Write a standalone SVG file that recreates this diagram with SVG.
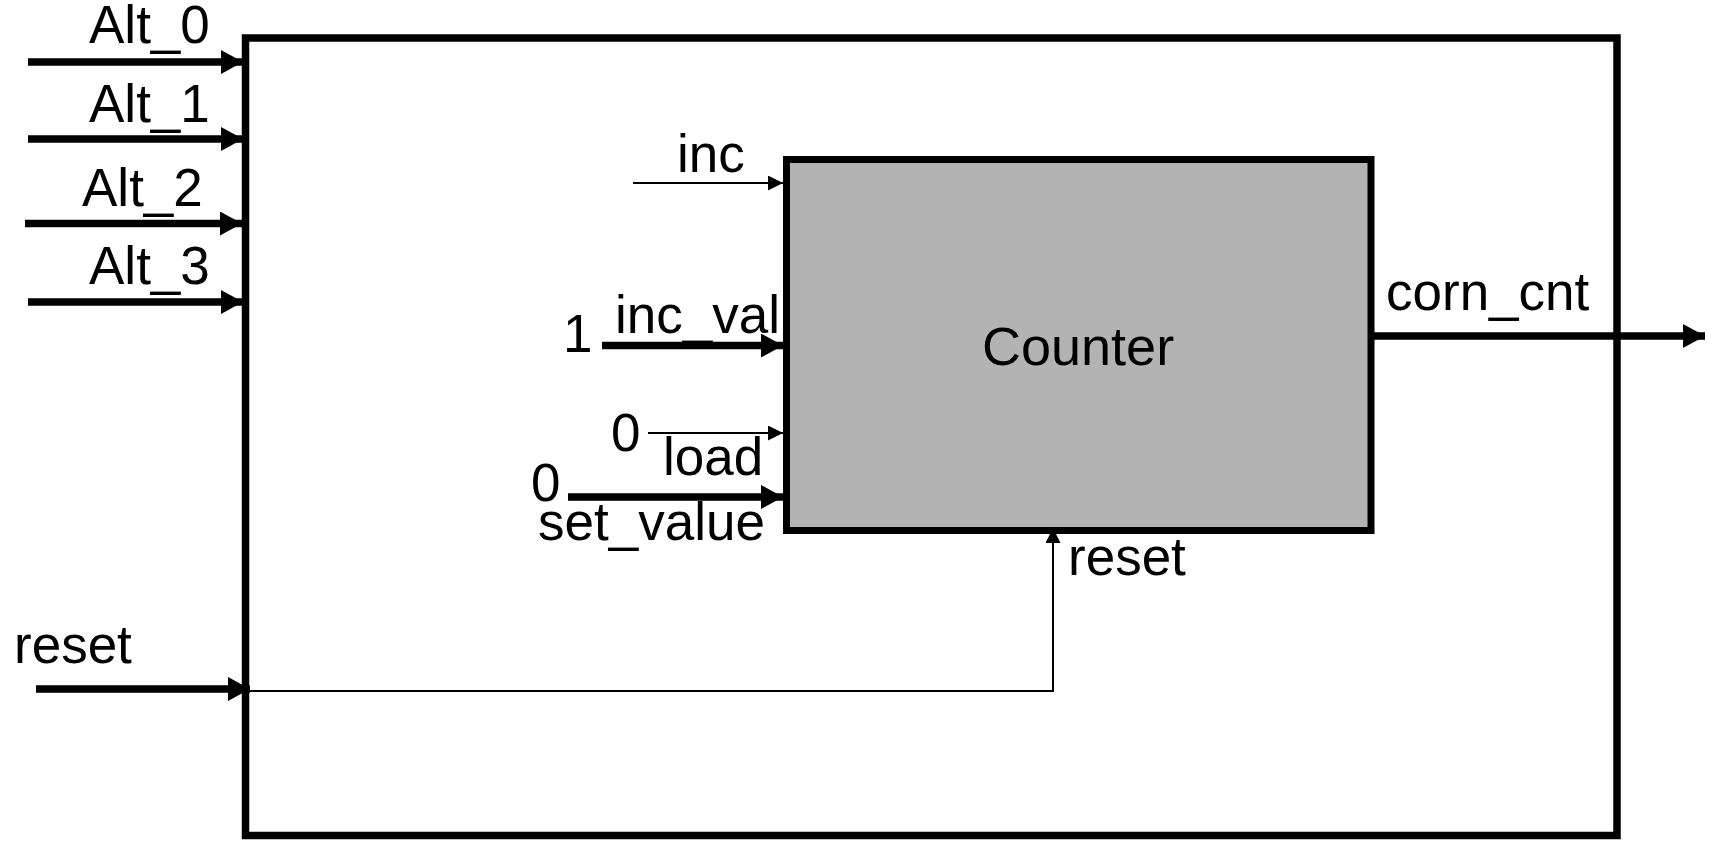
<svg xmlns="http://www.w3.org/2000/svg" width="1717" height="843" viewBox="0 0 1717 843">
<style>
text{font-family:"Liberation Sans",Arial,sans-serif;font-size:53px;fill:#000}
.thick{stroke:#000;stroke-width:7.5;fill:none}
.thin{stroke:#000;stroke-width:2;fill:none}
.box{stroke:#000;stroke-width:7.5;fill:#fff}
</style>
<defs>
<marker id="ah" markerUnits="userSpaceOnUse" markerWidth="22" markerHeight="24" refX="22" refY="12" orient="auto"><path d="M0,0 L22,12 L0,24 z" fill="#000"/></marker>
<marker id="as" markerUnits="userSpaceOnUse" markerWidth="15" markerHeight="15" refX="15" refY="7.5" orient="auto"><path d="M0,0 L15,7.5 L0,15 z" fill="#000"/></marker>
</defs>
<rect width="1717" height="843" fill="#fff"/>
<g id="outer">
<rect class="box" x="245.5" y="38" width="1371.5" height="797.5"/>
</g>
<g id="counter">
<rect x="786.5" y="159.5" width="584.5" height="371" fill="#b3b3b3" stroke="#000" stroke-width="7"/>
<text x="982" y="365" style="font-size:54px">Counter</text>
</g>
<g id="connectors">
<line class="thick" x1="28" y1="62" x2="243" y2="62" marker-end="url(#ah)"/>
<line class="thick" x1="28" y1="139" x2="243" y2="139" marker-end="url(#ah)"/>
<line class="thick" x1="25" y1="223.5" x2="242" y2="223.5" marker-end="url(#ah)"/>
<line class="thick" x1="28" y1="302" x2="243" y2="302" marker-end="url(#ah)"/>
<line class="thick" x1="36" y1="689" x2="250" y2="689" marker-end="url(#ah)"/>
<polyline class="thin" points="250,691 1053,691 1053,528" marker-end="url(#as)"/>
<line class="thin" x1="633" y1="183" x2="783" y2="183" marker-end="url(#as)"/>
<line class="thick" x1="602" y1="345.5" x2="783" y2="345.5" marker-end="url(#ah)"/>
<line class="thin" x1="648" y1="433" x2="783" y2="433" marker-end="url(#as)"/>
<line class="thick" x1="568" y1="497" x2="783" y2="497" marker-end="url(#ah)"/>
<line class="thick" x1="1371" y1="336" x2="1705" y2="336" marker-end="url(#ah)"/>
</g>
<g id="labels">
<text x="89" y="43">Alt_0</text>
<text x="89" y="122">Alt_1</text>
<text x="82" y="206">Alt_2</text>
<text x="89" y="284">Alt_3</text>
<text x="14" y="663">reset</text>
<text x="677" y="172">inc</text>
<text x="563" y="352">1</text>
<text x="615" y="333">inc_val</text>
<text x="611" y="451">0</text>
<text x="663" y="475">load</text>
<text x="531" y="501">0</text>
<text x="538" y="540">set_value</text>
<text x="1068" y="575">reset</text>
<text x="1386" y="310">corn_cnt</text>
</g>
</svg>
